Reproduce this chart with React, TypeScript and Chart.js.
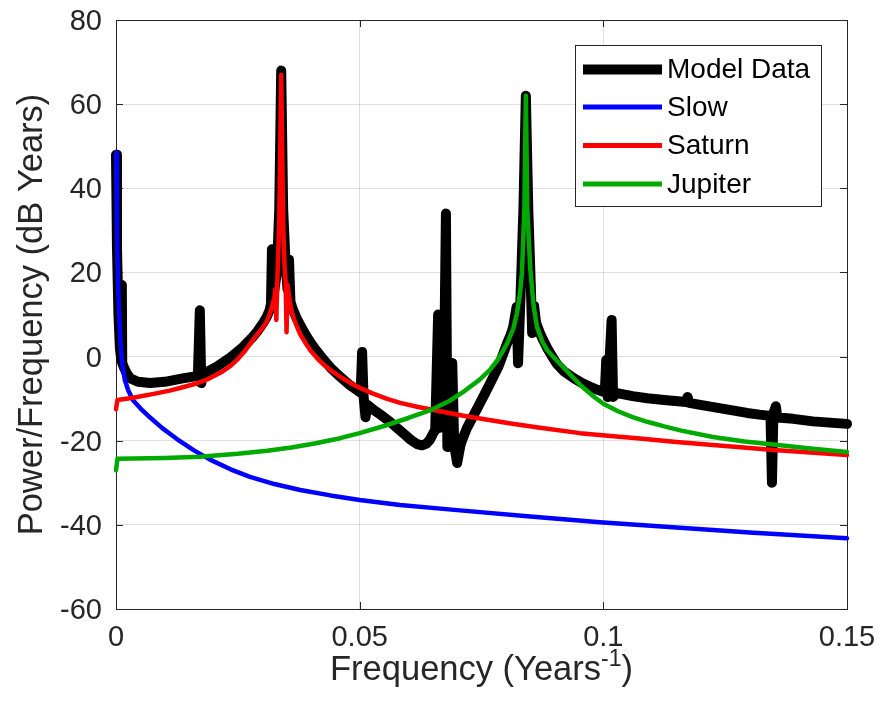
import React, { useEffect, useRef } from "react";
import { Chart, registerables } from "chart.js";

Chart.register(...registerables);

const FONT = "'Liberation Sans', Arial, Helvetica, sans-serif";
const TEXT = "#262626";

const xTickValues = [0, 0.05, 0.1, 0.15];
const xTickLabels = ["0", "0.05", "0.1", "0.15"];
const yTickValues = [-60, -40, -20, 0, 20, 40, 60, 80];
const yTickLabels = ["-60", "-40", "-20", "0", "20", "40", "60", "80"];

const seriesNames = ["Model Data", "Slow", "Saturn", "Jupiter"];
const seriesColors = ["#000000", "#0000ff", "#ff0000", "#00aa00"];

const modelFreq = [
  0, 0.0002, 0.0005, 0.0008, 0.0011, 0.0012, 0.00128, 0.0016, 0.0022, 0.003,
  0.0045, 0.007, 0.01, 0.0137, 0.0168, 0.0172, 0.0175, 0.0178, 0.0207, 0.0235,
  0.026, 0.028, 0.029, 0.0302, 0.031, 0.0315, 0.0318, 0.032, 0.0323, 0.033,
  0.0335, 0.0339, 0.0343, 0.0348, 0.0352, 0.0355, 0.0358, 0.0363, 0.037, 0.038,
  0.039, 0.04, 0.0412, 0.0425, 0.044, 0.046, 0.048, 0.0502, 0.0505, 0.0508,
  0.0512, 0.0516, 0.053, 0.0545, 0.0562, 0.0575, 0.059, 0.0605, 0.0618, 0.0628,
  0.0637, 0.0644, 0.0652, 0.0655, 0.0661, 0.0664, 0.0672, 0.0677, 0.068, 0.0686,
  0.069, 0.0694, 0.07, 0.0707, 0.0713, 0.072, 0.073, 0.0745, 0.0757, 0.0767,
  0.0777, 0.0785, 0.0795, 0.0802, 0.081, 0.0815, 0.0822, 0.0825, 0.083, 0.0836,
  0.0841, 0.0846, 0.0851, 0.0854, 0.0858, 0.0862, 0.087, 0.0877, 0.0885, 0.0895,
  0.0905, 0.092, 0.094, 0.0955, 0.0973, 0.0988, 0.1003, 0.1006, 0.1009, 0.1017,
  0.102, 0.1028, 0.106, 0.109, 0.113, 0.117, 0.1173, 0.1176, 0.1205, 0.1235,
  0.1265, 0.1295, 0.132, 0.1343, 0.1346, 0.1349, 0.1354, 0.1357, 0.139, 0.143,
  0.15,
];
const modelPower = [
  48, 26, 10, 2, -1, 17, -1.5, -2.5, -4, -5.2,
  -6, -6.3, -6, -5.2, -4.6, 11, -6.3, -4.2, -2.4, -0.2,
  2.2, 4.6, 6, 8, 9.6, 11, 12.5, 25.5, 14, 20,
  35, 68, 35, 22, 16, 23, 13, 11.2, 9.3, 7,
  5, 3.2, 1.3, -0.6, -2.6, -4.8, -6.8, -8.6, 1.1, -9.5,
  -14.4, -11.5, -12.8, -14, -15.5, -16.8, -18.3, -19.8, -20.8, -21.1,
  -20.7, -19.8, -18, -17.5, 10, -17, -15, 34, -21.5, -20,
  -1.5, -21, -25.3, -21, -19, -17, -14.8, -11.5, -8.8, -6.5,
  -4.2, -2.3, 0.8, 3, 5.2, 7, 11.8, -1.6, 14, 35,
  62, 35, 17.5, 5.6, 12, 8, 5.6, 3.8, 2, 0,
  -1.8, -3.6, -5.2, -6.2, -7.2, -7.9, -8.5, -0.8, -9.6, 8.7,
  -9.6, -8.7, -9.4, -9.9, -10.4, -10.8, -9.6, -11, -11.6, -12.2,
  -12.8, -13.4, -13.8, -14.1, -30, -13.5, -11.8, -14.5, -14.8, -15.4,
  -16,
];

const slowFreq = [
  0, 0.0002, 0.0004, 0.0006, 0.0008, 0.001, 0.0013, 0.0018, 0.0025, 0.0035,
  0.005, 0.007, 0.0095, 0.0125, 0.016, 0.0193, 0.0235, 0.0275, 0.0325, 0.0378,
  0.044, 0.05, 0.0583, 0.07, 0.085, 0.0993, 0.115, 0.13, 0.15,
];
const slowPower = [
  48.4, 30, 18, 11, 6, 2, -2, -5.5, -8, -10.4,
  -12.3, -14.5, -17, -19.6, -22.3, -24.5, -26.8, -28.6, -30.3, -31.7,
  -33, -34.1, -35.3, -36.5, -38, -39.4, -40.6, -41.8, -43.2,
];

const saturnFreq = [
  0, 0.0003, 0.0035, 0.008, 0.011, 0.0137, 0.0165, 0.019, 0.0215, 0.0235,
  0.025, 0.0265, 0.028, 0.029, 0.0302, 0.031, 0.0315, 0.032, 0.0325, 0.0327,
  0.0329, 0.0331, 0.0335, 0.0339, 0.0343, 0.0346, 0.0348, 0.035, 0.0352, 0.0356,
  0.036, 0.0365, 0.037, 0.0378, 0.039, 0.04, 0.0412, 0.0425, 0.044, 0.046,
  0.048, 0.05, 0.0525, 0.0555, 0.0583, 0.062, 0.0665, 0.071, 0.075, 0.081,
  0.087, 0.0952, 0.1015, 0.1075, 0.115, 0.1225, 0.135, 0.15,
];
const saturnPower = [
  -12.5, -10.3, -9.8, -8.8, -8.1, -7.3, -6.4, -5.3, -3.8, -2.2,
  -0.6, 1.4, 3.8, 5.3, 7, 8.5, 10, 11.8, 14, 16,
  8.7, 18, 32, 67, 32, 21, 18, 5.8, 17, 13.5,
  11, 9, 7.5, 5.3, 3, 1.3, -0.3, -1.8, -3.2, -4.8,
  -6.2, -7.4, -8.7, -10, -11, -12, -13, -14, -14.8, -15.9,
  -16.9, -18.2, -18.9, -19.5, -20.3, -21, -22.2, -23.4,
];

const jupiterFreq = [
  0, 0.0003, 0.01, 0.0172, 0.025, 0.031, 0.036, 0.041, 0.046, 0.05,
  0.055, 0.06, 0.0644, 0.0685, 0.0715, 0.0745, 0.0767, 0.0785, 0.0802, 0.0815,
  0.0823, 0.0829, 0.0833, 0.0838, 0.0841, 0.0844, 0.085, 0.0857, 0.0864, 0.0875,
  0.0885, 0.0905, 0.093, 0.0955, 0.098, 0.1, 0.103, 0.106, 0.109, 0.1125,
  0.116, 0.1225, 0.129, 0.1363, 0.143, 0.15,
];
const jupiterPower = [
  -27, -24.3, -24.1, -23.8, -23.1, -22.4, -21.6, -20.6, -19.4, -18.2,
  -16.5, -14.6, -12.8, -10.5, -8.2, -5.6, -3.2, -0.5, 3, 6.5,
  10.5, 15, 20, 35, 62, 35, 21, 12, 7, 3.5,
  1.5, -1, -4, -7, -9.5, -11.2, -13, -14.4, -15.5, -16.6,
  -17.6, -19.1, -20.2, -21.1, -21.9, -22.7,
];

const seriesFreqs = [modelFreq, slowFreq, saturnFreq, jupiterFreq];
const seriesPowers = [modelPower, slowPower, saturnPower, jupiterPower];
const seriesWidths = [10, 4.5, 4.5, 4.5];

const axesBoxPlugin = {
  id: "axesBox",
  beforeDatasetsDraw(chart: any) {
    const { ctx, chartArea: a, scales } = chart;
    ctx.save();
    ctx.strokeStyle = TEXT;
    ctx.lineWidth = 1;
    const tl = 7;
    ctx.beginPath();
    for (const v of xTickValues) {
      const px = Math.round(scales.x.getPixelForValue(v)) + 0.5;
      ctx.moveTo(px, a.bottom);
      ctx.lineTo(px, a.bottom - tl);
      ctx.moveTo(px, a.top);
      ctx.lineTo(px, a.top + tl);
    }
    for (const v of yTickValues) {
      const py = Math.round(scales.y.getPixelForValue(v)) + 0.5;
      ctx.moveTo(a.left, py);
      ctx.lineTo(a.left + tl, py);
      ctx.moveTo(a.right, py);
      ctx.lineTo(a.right - tl, py);
    }
    ctx.stroke();
    ctx.strokeRect(
      Math.round(a.left) + 0.5,
      Math.round(a.top) + 0.5,
      Math.round(a.right - a.left),
      Math.round(a.bottom - a.top)
    );
    ctx.restore();
  },
};

const legendPlugin = {
  id: "mlLegend",
  afterDatasetsDraw(chart: any) {
    const { ctx } = chart;
    ctx.save();
    const bx = 575.5, by = 45.5, bw = 246, bh = 161;
    ctx.fillStyle = "#ffffff";
    ctx.fillRect(bx, by, bw, bh);
    ctx.strokeStyle = TEXT;
    ctx.lineWidth = 1;
    ctx.strokeRect(bx, by, bw, bh);
    const rows = [69.5, 107, 145.5, 184];
    ctx.font = `28px ${FONT}`;
    ctx.textBaseline = "middle";
    ctx.textAlign = "left";
    seriesNames.forEach((name, i) => {
      ctx.strokeStyle = seriesColors[i];
      ctx.lineWidth = i === 0 ? 10 : 5;
      ctx.lineCap = "butt";
      ctx.beginPath();
      ctx.moveTo(583, rows[i]);
      ctx.lineTo(662, rows[i]);
      ctx.stroke();
      ctx.fillStyle = "#000000";
      ctx.fillText(name, 667, rows[i] + 1);
    });
    ctx.restore();
  },
};

const titlesPlugin = {
  id: "mlTitles",
  afterDraw(chart: any) {
    const { ctx, chartArea: a } = chart;
    ctx.save();
    ctx.fillStyle = TEXT;
    // y title
    ctx.font = `34.5px ${FONT}`;
    ctx.textAlign = "center";
    ctx.textBaseline = "middle";
    ctx.translate(32, (a.top + a.bottom) / 2);
    ctx.rotate(-Math.PI / 2);
    ctx.fillText("Power/Frequency (dB Years)", 0, 0);
    ctx.setTransform(1, 0, 0, 1, 0, 0);
    // x title with superscript
    const main = "Frequency (Years";
    const sup = "-1";
    const close = ")";
    const bigFont = `34.5px ${FONT}`;
    const supFont = `23px ${FONT}`;
    ctx.font = bigFont;
    const w1 = ctx.measureText(main).width;
    const w3 = ctx.measureText(close).width;
    ctx.font = supFont;
    const w2 = ctx.measureText(sup).width;
    const total = w1 + w2 + w3;
    const cx = (a.left + a.right) / 2;
    let x = cx - total / 2;
    const baseY = 680;
    ctx.textAlign = "left";
    ctx.textBaseline = "alphabetic";
    ctx.font = bigFont;
    ctx.fillText(main, x, baseY);
    x += w1;
    ctx.font = supFont;
    ctx.fillText(sup, x, baseY - 14);
    x += w2;
    ctx.font = bigFont;
    ctx.fillText(close, x, baseY);
    ctx.restore();
  },
};

export default function App() {
  const canvasRef = useRef<HTMLCanvasElement | null>(null);

  useEffect(() => {
    if (!canvasRef.current) return;
    const datasets = seriesNames.map((name, i) => ({
      label: name,
      data: seriesFreqs[i].map((f, j) => ({ x: f, y: seriesPowers[i][j] })),
      borderColor: seriesColors[i],
      backgroundColor: seriesColors[i],
      borderWidth: seriesWidths[i],
      borderCapStyle: "round" as const,
      borderJoinStyle: "round" as const,
      pointRadius: 0,
      tension: 0,
      fill: false,
      clip: false as any,
      order: 3 - i,
    }));

    const chart = new Chart(canvasRef.current, {
      type: "line",
      data: { datasets },
      plugins: [axesBoxPlugin, legendPlugin, titlesPlugin],
      options: {
        animation: false,
        responsive: true,
        maintainAspectRatio: false,
        layout: { padding: { top: 20, right: 34, bottom: 0, left: 0 } },
        plugins: {
          legend: { display: false },
          tooltip: { enabled: false },
          title: { display: false },
        },
        scales: {
          x: {
            type: "linear",
            min: 0,
            max: 0.15,
            afterBuildTicks: (s: any) => {
              s.ticks = xTickValues.map((v) => ({ value: v }));
            },
            afterFit: (s: any) => {
              s.height = 110;
              s.paddingLeft = 0;
              s.paddingRight = 0;
            },
            ticks: {
              autoSkip: false,
              maxRotation: 0,
              padding: 12,
              color: TEXT,
              font: { family: FONT, size: 29 },
              callback: (v: any) => {
                const k = xTickValues.findIndex((t) => Math.abs(t - v) < 1e-9);
                return k >= 0 ? xTickLabels[k] : "";
              },
            },
            grid: {
              color: "rgba(38,38,38,0.15)",
              lineWidth: 1,
              drawTicks: false,
            },
            border: { display: false },
          },
          y: {
            type: "linear",
            min: -60,
            max: 80,
            afterBuildTicks: (s: any) => {
              s.ticks = yTickValues.map((v) => ({ value: v }));
            },
            afterFit: (s: any) => {
              s.width = 116;
              s.paddingTop = 0;
              s.paddingBottom = 0;
            },
            ticks: {
              autoSkip: false,
              padding: 14,
              labelOffset: 2,
              color: TEXT,
              font: { family: FONT, size: 29 },
              callback: (v: any) => {
                const k = yTickValues.findIndex((t) => Math.abs(t - v) < 1e-9);
                return k >= 0 ? yTickLabels[k] : "";
              },
            },
            grid: {
              color: "rgba(38,38,38,0.15)",
              lineWidth: 1,
              drawTicks: false,
            },
            border: { display: false },
          },
        },
      },
    });
    return () => chart.destroy();
  }, []);

  return (
    <div
      style={{
        position: "absolute",
        left: 0,
        top: 0,
        width: 881,
        height: 719,
        background: "#ffffff",
      }}
    >
      <canvas ref={canvasRef} style={{ display: "block" }} />
    </div>
  );
}
